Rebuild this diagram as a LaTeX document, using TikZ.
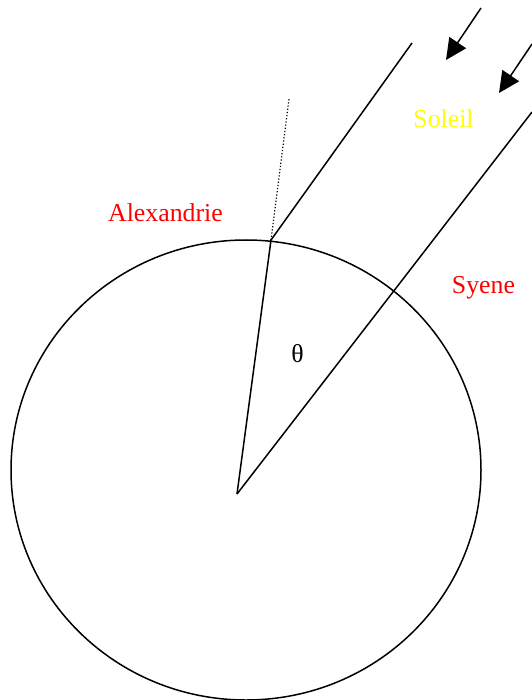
\documentclass[tikz,border=0pt]{standalone}
\usepackage{fontspec}
\setmainfont{Liberation Serif}
\usepackage{tikz}
\usetikzlibrary{arrows.meta,positioning}
\definecolor{SunYellow}{RGB}{255,255,0}
\definecolor{CityRed}{RGB}{255,0,0}

\begin{document}
\begin{tikzpicture}[>={Triangle[length=21pt,width=20pt]},x=1pt,y=-1pt,
  trait/.style={line width=1.5pt},
  lbl/.style={font=\fontsize{25.8}{30}\selectfont,inner sep=0pt,anchor=base}]
\useasboundingbox (0,0) rectangle (531,700);
\coordinate (C) at (246,470);
\coordinate (O) at (237,494);
\coordinate (A) at (271,240);
\coordinate (Z) at (289,99);
\coordinate (R1) at (412,43);
\coordinate (R2) at (532,112);
\coordinate (F1) at (481,8);
\coordinate (T1) at (446,60);
\coordinate (F2) at (532,44);
\coordinate (T2) at (499,93);
\draw[trait] (C) ellipse [x radius=235pt,y radius=230pt];
\draw[trait] (O)--(A);
\draw[dotted,line width=1.2pt] (A)--(Z);
\draw[trait] (A)--(R1);
\draw[trait] (O)--(R2);
\draw[trait,->] (F1)--(T1);
\draw[trait,->] (F2)--(T2);
\node[lbl,text=CityRed] (alex) at (165.5,222) {Alexandrie};
\node[lbl,text=CityRed] (syene) at (483.5,293) {Syene};
\node[lbl,text=SunYellow] (soleil) at (443.5,128) {Soleil};
\node[lbl] (theta) at (297.5,362) {θ};
\end{tikzpicture}
\end{document}
